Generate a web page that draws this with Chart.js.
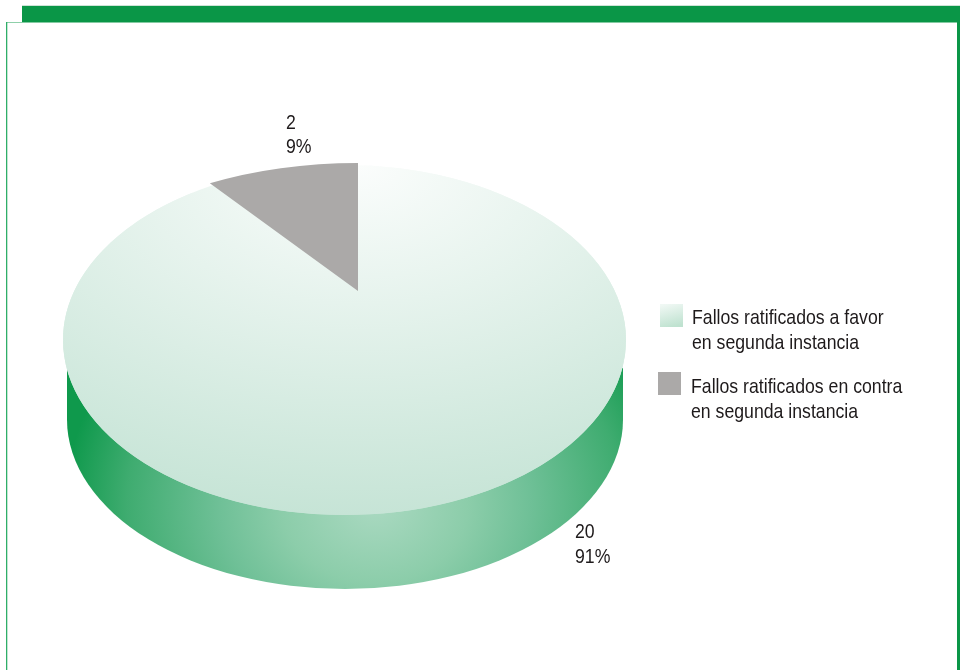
<!DOCTYPE html>
<html lang="es">
<head>
<meta charset="utf-8">
<title>Fallos ratificados</title>
<style>html,body{margin:0;padding:0;background:#fff}canvas{display:block}</style>
<script src="https://cdn.jsdelivr.net/npm/chart.js@4"></script>
</head>
<body>
<canvas id="c" width="960" height="670"></canvas>
<script>
// Data
const categories = ["Fallos ratificados a favor en segunda instancia", "Fallos ratificados en contra en segunda instancia"];
const values = [20, 2];
const percents = ["91%", "9%"];
const legendLines = [["Fallos ratificados a favor", "en segunda instancia"], ["Fallos ratificados en contra", "en segunda instancia"]];

// Style / layout
const FONT = '21px "Liberation Sans", sans-serif';
const NARROW = 0.842;
const INK = '#1e1a1b';
const top3D = { cx: 344.5, cy: 340, rx: 281.5, ry: 175 };
const greyWedge = { cx: 358, cy: 291, rx: 274, ry: 128 };
const wall = { left: 67, right: 623, startY: 368, cx: 345, cy: 419.5, rx: 278, ry: 169.5 };
const wallGlow = { cx: 375, cy: 505, rx: 310, ry: 260 };
const placements = [
  { square: [660, 304], textX: 692, y: [324, 349], label: [575, 538, 563] },
  { square: [658, 372], textX: 691, y: [393, 418], label: [286, 129, 153] }
];

function greenFill(chart) {
  const a = chart.chartArea;
  if (!a) return '#dcefe5';
  const x = (a.left + a.right) / 2, y = (a.top + a.bottom) / 2;
  const R = Math.min(a.right - a.left, a.bottom - a.top) / 2;
  const g = chart.ctx.createRadialGradient(x + 0.05 * R, y - R, 0, x + 0.05 * R, y - R, 2 * R);
  g.addColorStop(0, '#fbfdfc');
  g.addColorStop(1, '#c6e4d6');
  return g;
}
function place(ctx, el, t) {
  const R = el.outerRadius;
  ctx.translate(t.cx, t.cy);
  ctx.scale(t.rx / R, t.ry / R);
  ctx.translate(-el.x, -el.y);
}
function text(c, s, x, y) {
  c.save();
  c.translate(x, y);
  c.scale(NARROW, 1);
  c.fillText(s, 0, 0);
  c.restore();
}

const frame = {
  id: 'frame',
  beforeDraw(chart) {
    const c = chart.ctx;
    c.save();
    c.fillStyle = '#cfe3d7'; c.fillRect(22, 5, 938, 1);
    c.fillStyle = '#0a9647'; c.fillRect(22, 6, 938, 16.5);
    c.fillStyle = '#8fd0aa'; c.fillRect(6, 22, 16, 1);
    c.fillStyle = '#2fae68'; c.fillRect(6, 22, 1.3, 648);
    c.fillStyle = '#0a9647'; c.fillRect(957, 22, 3, 648);
    c.restore();
  }
};

const pie3d = {
  id: 'pie3d',
  beforeDatasetDraw(chart, args) {
    const c = chart.ctx, els = chart.getDatasetMeta(args.index).data;
    // side wall: path in page space, elliptical glow applied at fill time
    c.save();
    c.beginPath();
    c.moveTo(wall.left, wall.startY);
    c.lineTo(wall.left, wall.cy);
    c.ellipse(wall.cx, wall.cy, wall.rx, wall.ry, 0, Math.PI, 0, true);
    c.lineTo(wall.right, wall.startY);
    c.lineTo(wall.cx, top3D.cy);
    c.closePath();
    c.translate(wallGlow.cx, wallGlow.cy);
    c.scale(wallGlow.rx, wallGlow.ry);
    const g = c.createRadialGradient(0, 0, 0, 0, 0, 1);
    [[0, '#aad9c1'], [0.3, '#8ccdaa'], [0.5, '#6fc097'], [0.8, '#3fac70'], [1, '#0f994c']]
      .forEach(s => g.addColorStop(s[0], s[1]));
    c.fillStyle = g;
    c.fill();
    c.restore();
    // top disc backing + library arcs
    const green = els[0], grey = els[1];
    c.save();
    place(c, green, top3D);
    c.fillStyle = green.options.backgroundColor;
    c.beginPath();
    c.arc(green.x, green.y, green.outerRadius, 0, Math.PI * 2);
    c.fill();
    green.draw(c);
    c.restore();
    c.save();
    place(c, grey, greyWedge);
    grey.draw(c);
    c.restore();
    return false;
  },
  afterDraw(chart) {
    const c = chart.ctx;
    c.save();
    c.font = FONT; c.textBaseline = 'alphabetic'; c.textAlign = 'left';
    values.forEach((v, i) => {
      const p = placements[i];
      c.fillStyle = INK;
      text(c, String(v), p.label[0], p.label[1]);
      text(c, percents[i], p.label[0], p.label[2]);
      legendLines[i].forEach((t, k) => text(c, t, p.textX, p.y[k]));
      const [sx, sy] = p.square;
      if (i === 0) {
        const g = c.createLinearGradient(sx + 6, sy, sx + 12, sy + 23);
        g.addColorStop(0, '#f0f8f4'); g.addColorStop(1, '#bfe2d0');
        c.fillStyle = g;
      } else c.fillStyle = '#aba9a8';
      c.fillRect(sx, sy, 23, 23);
    });
    c.restore();
  }
};

new Chart(document.getElementById('c'), {
  type: 'pie',
  data: {
    labels: categories,
    datasets: [{
      data: values,
      borderWidth: 0,
      backgroundColor: ctx => ctx.dataIndex === 0 ? greenFill(ctx.chart) : '#aba9a8'
    }]
  },
  options: {
    responsive: false,
    animation: false,
    layout: { padding: 0 },
    plugins: { legend: { display: false }, tooltip: { enabled: false } }
  },
  plugins: [frame, pie3d]
});
</script>
</body>
</html>
